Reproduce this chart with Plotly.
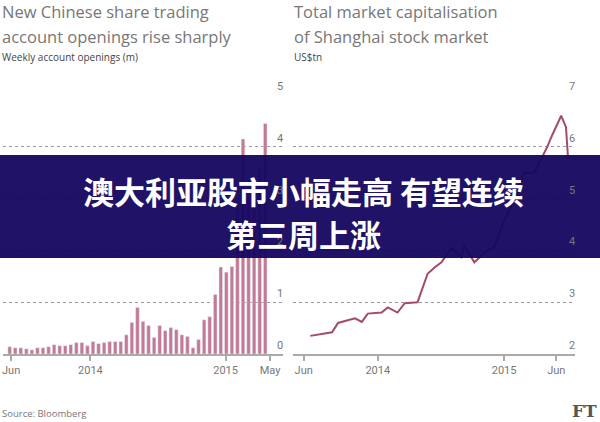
import plotly.graph_objects as go
import pandas as pd

# Left panel: weekly account openings (m)
bar_values = [0.14,0.12,0.12,0.10,0.08,0.12,0.12,0.14,0.18,0.16,0.16,0.18,0.22,0.22,0.16,0.24,
              0.20,0.22,0.24,0.24,0.24,0.37,0.61,0.90,0.63,0.55,0.32,0.55,0.45,0.51,0.47,0.37,
              0.34,0.12,0.28,0.66,0.72,1.15,1.68,1.58,1.69,2.8,4.15,3.0,3.3,3.6,4.45]
bar_dates = pd.date_range("2013-05-28", periods=len(bar_values), freq="15D")

# Right panel: Shanghai market cap (US$tn)
line_dates = ["2013-06-20","2013-08-22","2013-09-08","2013-10-27","2013-11-16","2013-12-03",
              "2014-01-12","2014-01-30","2014-02-27","2014-03-20","2014-04-26","2014-05-25",
              "2014-06-14","2014-07-04","2014-08-02","2014-08-30","2014-09-08","2014-10-07",
              "2014-11-13","2014-12-03","2015-01-01","2015-01-30","2015-02-28","2015-03-29",
              "2015-05-06","2015-05-17","2015-06-15","2015-06-29","2015-07-05"]
line_values = [2.35,2.42,2.6,2.69,2.62,2.78,2.8,2.9,2.8,2.98,3.0,3.55,3.67,3.77,4.05,3.87,4.1,
               3.77,4.0,4.06,4.57,4.96,5.5,5.5,6.0,6.18,6.6,6.38,5.77]

left_ticks = ["2013-06-01","2014-01-01","2015-01-01","2015-05-01"]
left_ticktext = ["Jun","2014","2015","May"]
right_ticks = ["2013-06-01","2014-01-01","2015-01-01","2015-06-01"]
right_ticktext = ["Jun","2014","2015","Jun"]
left_yticks = [0,1,2,3,4,5]
right_yticks = [2,3,4,5,6,7]

W, H = 600, 422
def py(y): return 1 - y / H
def px(x): return x / W

fig = go.Figure()
fig.add_trace(go.Bar(x=bar_dates, y=bar_values, marker_color="#c27a95", xaxis="x", yaxis="y"))
fig.add_trace(go.Scatter(x=pd.to_datetime(line_dates), y=line_values, mode="lines",
                         line=dict(color="#a34a6e", width=2), xaxis="x2", yaxis="y2"))

grid = dict(showgrid=True, gridcolor="#999", griddash="dot", gridwidth=1.3, zeroline=False,
            showticklabels=False)
xcommon = dict(type="date", showgrid=False, showline=True, linecolor="#aaa", linewidth=2,
               ticks="outside", ticklen=5, tickcolor="#aaa", tickwidth=1.5,
               tickfont=dict(family="Roboto", size=11, color="#777"))
fig.update_layout(
    width=W, height=H, margin=dict(l=0, r=0, t=0, b=0),
    paper_bgcolor="white", plot_bgcolor="white", showlegend=False, bargap=0.35,
    xaxis=dict(domain=[px(3), px(283)], range=["2013-05-10", "2015-06-05"],
               tickvals=left_ticks, ticktext=left_ticktext, **xcommon),
    yaxis=dict(domain=[py(354), py(95)], range=[0, 5], tickvals=left_yticks, **grid),
    xaxis2=dict(domain=[px(293), px(575)], range=["2013-05-01", "2015-07-25"],
                tickvals=right_ticks, ticktext=right_ticktext, anchor="y2", **xcommon),
    yaxis2=dict(domain=[py(354), py(95)], range=[2, 7], tickvals=right_yticks, anchor="x2", **grid),
)

ann = []
for v in left_yticks:
    ann.append(dict(xref="paper", yref="y", x=px(285), y=v, text=str(v), showarrow=False,
                    xanchor="right", yanchor="bottom", font=dict(family="Roboto", size=11, color="#777")))
for v in right_yticks:
    ann.append(dict(xref="paper", yref="y2", x=px(577), y=v, text=str(v), showarrow=False,
                    xanchor="right", yanchor="bottom", font=dict(family="Roboto", size=11, color="#777")))

def txt(x, y, s, size, color, family="Open Sans", anchor="left"):
    ann.append(dict(xref="paper", yref="paper", x=px(x), y=py(y), text=s, showarrow=False,
                    xanchor=anchor, yanchor="middle", font=dict(family=family, size=size, color=color)))

txt(0, 12, "New Chinese share trading", 16.5, "#777")
txt(0, 36, "account openings rise sharply", 16.5, "#777")
txt(0, 57, "Weekly account openings (m)", 10, "#444")
txt(292, 12, "Total market capitalisation", 16.5, "#777")
txt(292, 36, "of Shanghai stock market", 16.5, "#777")
txt(292, 57, "US$tn", 10, "#444")
txt(0, 413, "Source: Bloomberg", 9.5, "#777")
txt(599, 411, "<b>FT</b>", 17, "#555", family="DejaVu Serif", anchor="right")

fig.add_shape(type="rect", xref="paper", yref="paper", x0=0, x1=1, y0=py(258), y1=py(155),
              fillcolor="rgba(20,6,95,0.95)", line_width=0, layer="above")
ann.append(dict(xref="paper", yref="paper", x=px(303), y=py(190), text="<b>澳大利亚股市小幅走高 有望连续</b>",
                showarrow=False, font=dict(family="Noto Sans CJK SC", size=31, color="white", weight=900)))
ann.append(dict(xref="paper", yref="paper", x=px(303), y=py(233), text="<b>第三周上涨</b>",
                showarrow=False, font=dict(family="Noto Sans CJK SC", size=31, color="white", weight=900)))
fig.update_layout(annotations=ann)
fig.write_html("out.html", config={"displayModeBar": False},
               post_script="document.body.style.margin='0px';document.body.style.padding='0px';")
